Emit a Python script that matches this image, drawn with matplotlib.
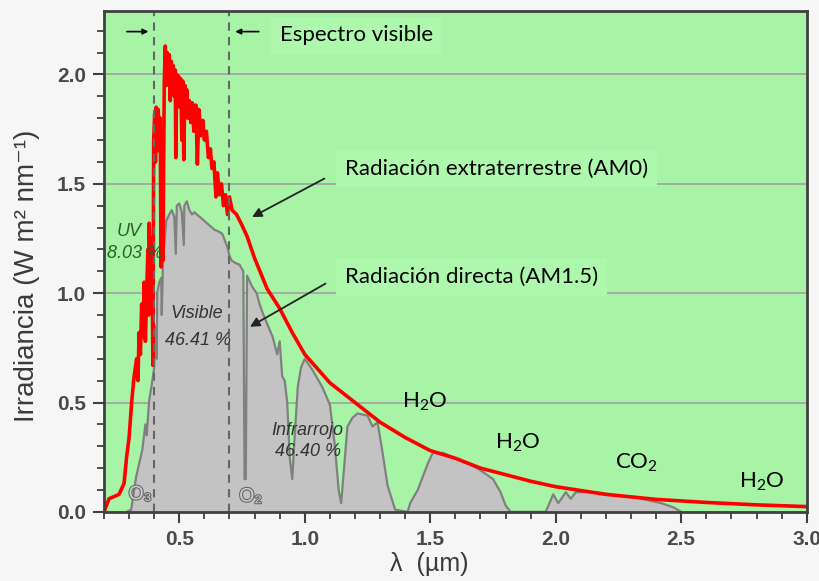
import matplotlib
matplotlib.use("Agg")
import matplotlib.pyplot as plt
import matplotlib.patheffects as pe
from matplotlib.ticker import MultipleLocator

plt.rcParams["font.family"] = ["Liberation Sans", "DejaVu Sans"]
plt.rcParams["mathtext.fontset"] = "custom"
plt.rcParams["mathtext.rm"] = "Lato"

# AM0 extraterrestrial spectrum
am0_wl = [0.20, 0.22, 0.26, 0.28, 0.29, 0.30, 0.31, 0.32, 0.33, 0.335, 0.34, 0.345,
          0.35, 0.355, 0.36, 0.365, 0.37, 0.375, 0.378, 0.38, 0.385, 0.39, 0.395,
          0.398, 0.402, 0.405, 0.408, 0.412, 0.416, 0.42, 0.424, 0.427, 0.431,
          0.435, 0.44, 0.444, 0.448, 0.452, 0.456, 0.46, 0.464, 0.468, 0.472,
          0.476, 0.48, 0.484, 0.486, 0.49, 0.494, 0.498, 0.502, 0.506, 0.51,
          0.514, 0.518, 0.522, 0.526, 0.53, 0.534, 0.54, 0.546, 0.552, 0.558,
          0.566, 0.572, 0.578, 0.586, 0.594, 0.60, 0.608, 0.616, 0.624, 0.63,
          0.638, 0.646, 0.652, 0.66, 0.668, 0.676, 0.684, 0.692, 0.70, 0.71,
          0.728, 0.75, 0.77, 0.80, 0.85, 0.90, 0.95, 1.00, 1.10, 1.20, 1.30,
          1.40, 1.50, 1.60, 1.70, 1.80, 1.90, 2.00, 2.20, 2.40, 2.60, 2.80, 3.00]
am0_irr = [0.00, 0.06, 0.08, 0.13, 0.25, 0.34, 0.50, 0.62, 0.70, 0.60, 0.82, 0.72,
           0.95, 0.80, 1.05, 0.78, 1.00, 1.20, 0.90, 1.32, 1.05, 1.25, 0.67,
           1.70, 1.82, 1.60, 1.85, 1.65, 1.84, 1.70, 1.80, 1.12, 1.60,
           1.15, 1.95, 2.13, 1.95, 2.10, 1.98, 2.09, 1.88, 2.06, 1.95,
           2.04, 1.90, 2.02, 1.62, 2.00, 1.88, 1.99, 1.85, 1.98, 1.70,
           1.97, 1.61, 1.95, 1.85, 1.93, 1.80, 1.88, 1.78, 1.87, 1.74,
           1.86, 1.59, 1.84, 1.72, 1.79, 1.70, 1.74, 1.62, 1.66, 1.57,
           1.60, 1.44, 1.55, 1.45, 1.50, 1.40, 1.45, 1.36, 1.44, 1.38,
           1.36, 1.31, 1.26, 1.16, 1.02, 0.93, 0.82, 0.72, 0.59, 0.50, 0.41,
           0.34, 0.28, 0.245, 0.20, 0.17, 0.14, 0.115, 0.080, 0.057, 0.043, 0.032, 0.024]

# AM1.5 direct spectrum
am15_wl = [0.29, 0.308, 0.32, 0.328, 0.34, 0.352, 0.365, 0.37, 0.38, 0.39, 0.40,
           0.405, 0.41, 0.412, 0.42, 0.428, 0.43, 0.435, 0.44, 0.448, 0.46, 0.47,
           0.48, 0.486, 0.49, 0.50, 0.51, 0.518, 0.52, 0.53, 0.54, 0.55, 0.56,
           0.58, 0.60, 0.62, 0.64, 0.66, 0.672, 0.685, 0.692, 0.70, 0.708, 0.72,
           0.74, 0.755, 0.76, 0.765, 0.77, 0.79, 0.808, 0.82, 0.832, 0.85, 0.872,
           0.89, 0.90, 0.91, 0.92, 0.93, 0.94, 0.95, 0.96, 0.972, 0.985, 1.00,
           1.03, 1.07, 1.10, 1.12, 1.135, 1.145, 1.16, 1.17, 1.19, 1.21, 1.25,
           1.27, 1.29, 1.31, 1.33, 1.36, 1.41, 1.42, 1.45, 1.47, 1.49, 1.51, 1.55,
           1.59, 1.63, 1.67, 1.70, 1.75, 1.78, 1.80, 1.82, 1.96, 1.975, 1.99,
           2.01, 2.04, 2.06, 2.08, 2.15, 2.25, 2.30, 2.38, 2.42, 2.47, 2.50]
am15_irr = [0.00, 0.01, 0.10, 0.16, 0.22, 0.28, 0.40, 0.35, 0.51, 0.58, 0.66,
            0.85, 0.70, 1.00, 1.05, 1.07, 0.90, 1.15, 1.22, 1.33, 1.36, 1.38,
            1.35, 1.18, 1.40, 1.41, 1.37, 1.22, 1.40, 1.42, 1.38, 1.36, 1.37,
            1.35, 1.33, 1.31, 1.29, 1.28, 1.27, 1.23, 1.21, 1.17, 1.15, 1.14,
            1.13, 1.10, 0.15, 0.15, 1.08, 1.03, 1.00, 0.95, 0.91, 0.86, 0.80,
            0.72, 0.78, 0.62, 0.60, 0.50, 0.25, 0.15, 0.35, 0.57, 0.66, 0.70,
            0.65, 0.57, 0.49, 0.30, 0.10, 0.04, 0.25, 0.39, 0.43, 0.45, 0.44,
            0.39, 0.41, 0.27, 0.12, 0.01, 0.00, 0.04, 0.10, 0.16, 0.22, 0.27, 0.27,
            0.25, 0.23, 0.21, 0.19, 0.15, 0.09, 0.03, 0.00, 0.00, 0.04, 0.08,
            0.04, 0.09, 0.06, 0.09, 0.09, 0.075, 0.07, 0.05, 0.04, 0.02, 0.00]

visible_limits = [0.40, 0.70]

fig = plt.figure(figsize=(8.19, 5.81), dpi=100, facecolor="#f6f6f6")
ax = fig.add_axes([0.127, 0.119, 0.858, 0.862])
ax.set_facecolor("#a7f4a7")
ax.set_axisbelow(True)

ax.fill_between(am15_wl, am15_irr, color="#c3c3c3", lw=0)
ax.plot(am15_wl, am15_irr, color="#808080", lw=1.6)
ax.plot(am0_wl, am0_irr, color="#ff0000", lw=2.6)

for xv in visible_limits:
    ax.axvline(xv, color="#666666", lw=1.5, ls=(0, (4, 3)))

ax.set_xlim(0.2, 3.0)
ax.set_ylim(0, 2.29)
ax.set_xticks([0.5, 1.0, 1.5, 2.0, 2.5, 3.0])
ax.set_yticks([0.0, 0.5, 1.0, 1.5, 2.0])
ax.xaxis.set_minor_locator(MultipleLocator(0.1))
ax.yaxis.set_minor_locator(MultipleLocator(0.1))
ax.grid(axis="y", color="#a0a0a0", lw=1.2)

for lab in ax.get_xticklabels() + ax.get_yticklabels():
    lab.set_fontsize(15)
    lab.set_fontweight("bold")
    lab.set_color("#4a4a4a")
ax.tick_params(which="major", direction="out", length=8, width=1.5, color="#404040", pad=5)
ax.tick_params(which="minor", direction="out", length=5, width=1.3, color="#404040")
for s in ax.spines.values():
    s.set_color("#404040")
    s.set_linewidth(2)

fig.text(27 / 819, 1 - 276 / 581, "Irradiancia (W m² nm⁻¹)", fontsize=20,
         color="#3a3a3a", rotation=90, ha="center", va="center")
fig.text(429 / 819, 1 - 564 / 581, "λ  (µm)", fontsize=18, color="#3a3a3a",
         ha="center", va="center")

box = dict(facecolor="#aef8ae", edgecolor="none", pad=6)
cal = ["Lato", "DejaVu Sans"]

ax.text(0.90, 2.18, "Espectro visible", family=cal, fontsize=16, va="center", bbox=box)
ax.annotate("", xy=(0.388, 2.196), xytext=(0.28, 2.196),
            arrowprops=dict(arrowstyle="-|>", color="black", lw=1.2, mutation_scale=8))
ax.annotate("", xy=(0.712, 2.196), xytext=(0.828, 2.196),
            arrowprops=dict(arrowstyle="-|>", color="black", lw=1.2, mutation_scale=8))

ax.text(1.16, 1.57, "Radiación extraterrestre (AM0)", family=cal, fontsize=16,
        va="center", bbox=box)
ax.annotate("", xy=(0.78, 1.342), xytext=(1.088, 1.53),
            arrowprops=dict(arrowstyle="-|>", color="#222222", lw=1.3, mutation_scale=14))
ax.text(1.16, 1.073, "Radiación directa (AM1.5)", family=cal, fontsize=16,
        va="center", bbox=box)
ax.annotate("", xy=(0.772, 0.84), xytext=(1.092, 1.05),
            arrowprops=dict(arrowstyle="-|>", color="#222222", lw=1.3, mutation_scale=14))

it = dict(style="italic", fontsize=13, ha="center", va="center")
ax.text(0.30, 1.28, "UV", color="#2d5e2d", **it)
ax.text(0.324, 1.18, "8.03 %", color="#2d5e2d", **it)
ax.text(0.568, 0.909, "Visible", color="#333333", **it)
ax.text(0.576, 0.785, "46.41 %", color="#333333", **it)
ax.text(1.008, 0.374, "Infrarrojo", color="#333333", **it)
ax.text(1.012, 0.274, "46.40 %", color="#333333", **it)

outline = [pe.withStroke(linewidth=1.6, foreground="#666666")]
ax.text(0.344, 0.078, "O₃", fontsize=14, ha="center", va="center", color="#cfcfcf",
        path_effects=outline)
ax.text(0.784, 0.068, "O₂", fontsize=14, ha="center", va="center", color="#cfcfcf",
        path_effects=outline)

for xv, yv, s in [(1.48, 0.502, r"H$_\mathrm{2}$O"), (1.848, 0.315, r"H$_\mathrm{2}$O"),
                  (2.32, 0.224, r"CO$_\mathrm{2}$"), (2.82, 0.137, r"H$_\mathrm{2}$O")]:
    ax.text(xv, yv, s, family=cal, fontsize=16, ha="center", va="center", color="black")

fig.savefig("out.png", dpi=100, facecolor=fig.get_facecolor())
